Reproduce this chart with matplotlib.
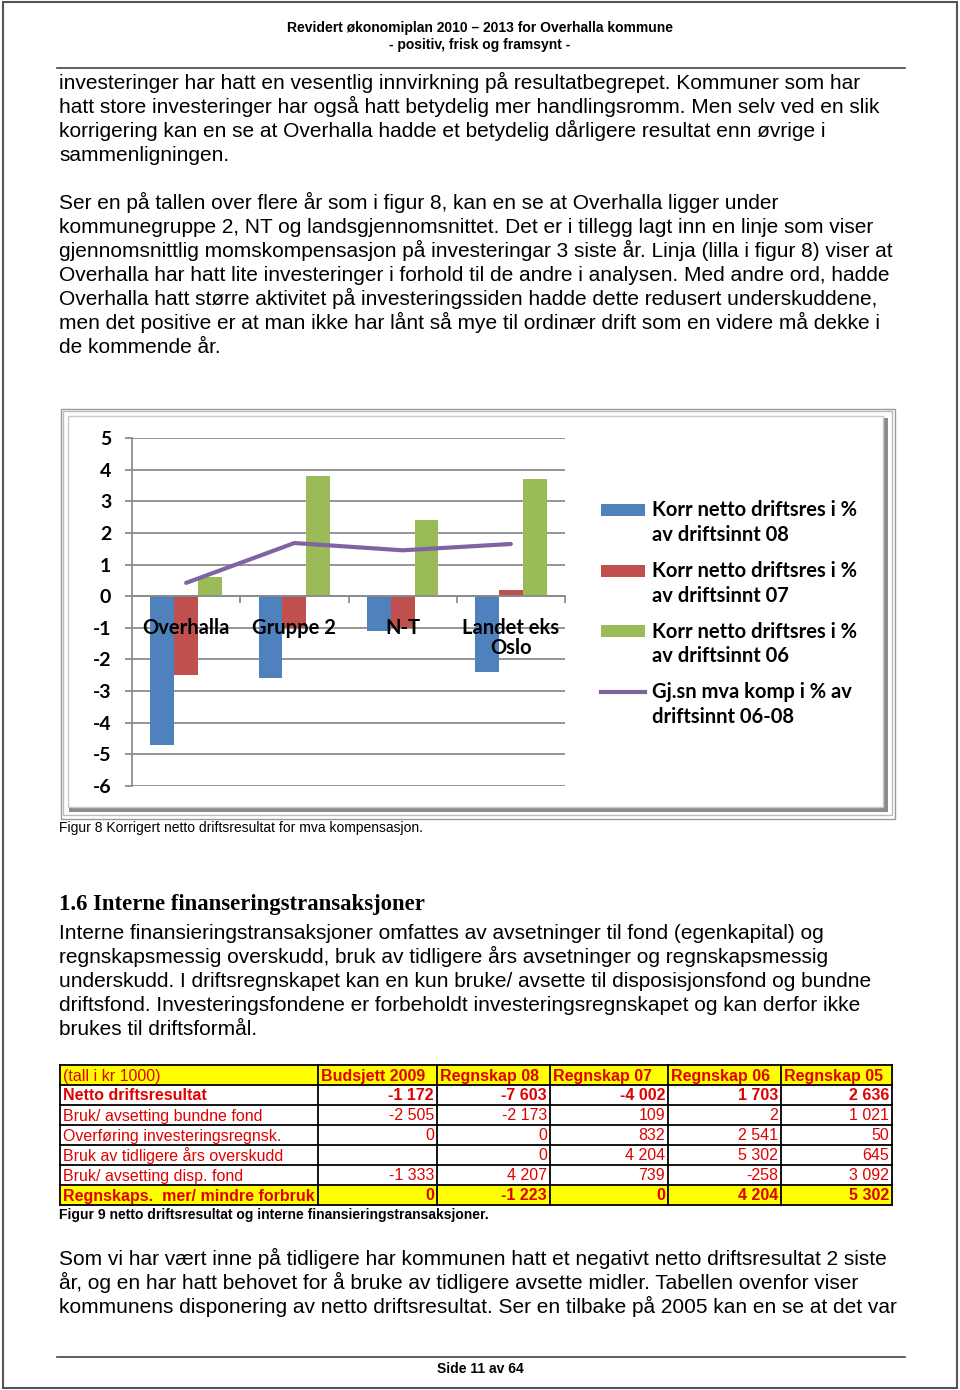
import matplotlib
matplotlib.use('Agg')
import matplotlib.pyplot as plt
from matplotlib.patches import Rectangle
import numpy as np

plt.rcParams['axes.unicode_minus'] = False

# ---- chart data (figur 8) ----
groups = ['Overhalla', 'Gruppe 2', 'N-T', 'Landet eks\nOslo']
res_08 = [-4.7, -2.6, -1.1, -2.4]
res_07 = [-2.5, -1.0, -1.0, 0.2]
res_06 = [0.6, 3.8, 2.4, 3.7]
mva_komp = [0.42, 1.68, 1.45, 1.65]
series_labels = ['Korr netto driftsres i %\nav driftsinnt 08',
                 'Korr netto driftsres i %\nav driftsinnt 07',
                 'Korr netto driftsres i %\nav driftsinnt 06',
                 'Gj.sn mva komp i % av\ndriftsinnt 06-08']
colors = ['#4F81BD', '#C0504D', '#9BBB59', '#8064A2']

# ---- table data (figur 9) ----
col_heads = ['(tall i kr 1000)', 'Budsjett 2009', 'Regnskap 08', 'Regnskap 07',
             'Regnskap 06', 'Regnskap 05']
row_names = ['Netto driftsresultat', 'Bruk/ avsetting bundne fond',
             'Overføring investeringsregnsk.', 'Bruk av tidligere års overskudd',
             'Bruk/ avsetting disp. fond', 'Regnskaps.  mer/ mindre forbruk']
table_vals = [
    [-1172, -7603, -4002, 1703, 2636],
    [-2505, -2173, 109, 2, 1021],
    [0, 0, 832, 2541, 50],
    [None, 0, 4204, 5302, 645],
    [-1333, 4207, 739, -258, 3092],
    [0, -1223, 0, 4204, 5302],
]

# ---- text ----
header = ['Revidert økonomiplan 2010 \u2013 2013 for Overhalla kommune',
          '- positiv, frisk og framsynt -']
para1 = ['investeringer har hatt en vesentlig innvirkning på resultatbegrepet. Kommuner som har',
         'hatt store investeringer har også hatt betydelig mer handlingsromm. Men selv ved en slik',
         'korrigering kan en se at Overhalla hadde et betydelig dårligere resultat enn øvrige i',
         'sammenligningen.']
para2 = ['Ser en på tallen over flere år som i figur 8, kan en se at Overhalla ligger under',
         'kommunegruppe 2, NT og landsgjennomsnittet. Det er i tillegg lagt inn en linje som viser',
         'gjennomsnittlig momskompensasjon på investeringar 3 siste år. Linja (lilla i figur 8) viser at',
         'Overhalla har hatt lite investeringer i forhold til de andre i analysen. Med andre ord, hadde',
         'Overhalla hatt større aktivitet på investeringssiden hadde dette redusert underskuddene,',
         'men det positive er at man ikke har lånt så mye til ordinær drift som en videre må dekke i',
         'de kommende år.']
para3 = ['Interne finansieringstransaksjoner omfattes av avsetninger til fond (egenkapital) og',
         'regnskapsmessig overskudd, bruk av tidligere års avsetninger og regnskapsmessig',
         'underskudd. I driftsregnskapet kan en kun bruke/ avsette til disposisjonsfond og bundne',
         'driftsfond. Investeringsfondene er forbeholdt investeringsregnskapet og kan derfor ikke',
         'brukes til driftsformål.']
para4 = ['Som vi har vært inne på tidligere har kommunen hatt et negativt netto driftsresultat 2 siste',
         'år, og en har hatt behovet for å bruke av tidligere avsette midler. Tabellen ovenfor viser',
         'kommunens disponering av netto driftsresultat. Ser en tilbake på 2005 kan en se at det var']

W, H = 960, 1390
fig = plt.figure(figsize=(W / 100, H / 100), dpi=100)
page = fig.add_axes([0, 0, 1, 1])
page.set_xlim(0, W)
page.set_ylim(H, 0)
page.axis('off')

body = dict(fontsize=15, family='Liberation Sans', color='black', va='baseline')
sans = 'Liberation Sans'

# page border + header
page.add_patch(Rectangle((2.5, 2), 954.5, 1386, fill=False, ec='#555555', lw=1.5))
page.text(480, 32, header[0], ha='center', va='baseline', fontsize=10,
          fontweight='bold', family=sans)
page.text(480, 49, header[1], ha='center', va='baseline', fontsize=10,
          fontweight='bold', family=sans)
page.plot([57, 905], [68, 68], color='#444444', lw=1.2)

def paragraph(lines, y0, step=24):
    for i, line in enumerate(lines):
        page.text(59, y0 + i * step, line, **body)

paragraph(para1, 89)
paragraph(para2, 209)

# chart frame
page.add_patch(Rectangle((60.5, 408.5), 834.5, 410, fill=False, ec='#999999', lw=1))
page.add_patch(Rectangle((63, 411), 829, 404, fill=False, ec='#bbbbbb', lw=1))
page.add_patch(Rectangle((883, 418), 5, 394, color='#8c8c8c', lw=0))
page.add_patch(Rectangle((69, 807), 819, 5, color='#8c8c8c', lw=0))
page.add_patch(Rectangle((68, 416), 815, 391, fill=False, ec='#c8c8c8', lw=1))

page.text(59, 832, 'Figur 8 Korrigert netto driftsresultat for mva kompensasjon.',
          fontsize=10, family=sans, va='baseline')

# chart axes
x0, x1, ytop, ybot = 132, 565, 438, 786
ax = fig.add_axes([x0 / W, 1 - ybot / H, (x1 - x0) / W, (ybot - ytop) / H])
x = np.arange(len(groups))
bw = 0.22
for k, vals in enumerate([res_08, res_07, res_06]):
    ax.bar(x + (k - 1) * bw, vals, width=bw, color=colors[k], zorder=2)
ax.plot(x, mva_komp, color=colors[3], lw=3, zorder=3, solid_capstyle='round')
ax.set_xlim(-0.5, len(groups) - 0.5)
ax.set_ylim(-6, 5)
ax.set_yticks(np.arange(-6, 6))
ax.set_axisbelow(True)
ax.grid(axis='y', color='#8c8c8c', lw=1.3)
for s in ['top', 'right']:
    ax.spines[s].set_visible(False)
ax.spines['left'].set_color('#8c8c8c')
ax.spines['left'].set_linewidth(1.3)
ax.spines['bottom'].set_position(('data', 0))
ax.spines['bottom'].set_color('#8c8c8c')
ax.spines['bottom'].set_linewidth(1.3)
ax.set_xticks(x + 0.5)
ax.set_xticklabels([])
ax.tick_params(axis='x', length=5, color='#8c8c8c', width=1.3)
ax.tick_params(axis='y', length=5, color='#8c8c8c', width=1.3, pad=10)
for t in ax.get_yticklabels():
    t.set_fontsize(14)
    t.set_fontweight('bold')
    t.set_family('Lato')
ax.patch.set_alpha(0)
for i, g in enumerate(groups):
    ax.annotate(g, (i, 0), xytext=(0, -16), textcoords='offset points',
                ha='center', va='top', fontsize=14.5, fontweight='bold',
                family='Lato', linespacing=1.0, zorder=5)

# legend
for k, lab in enumerate(series_labels):
    yc = 510 + k * 60.5
    if k < 3:
        page.add_patch(Rectangle((601, yc - 6), 44, 12, color=colors[k], lw=0))
    else:
        page.plot([601, 645], [yc, yc], color=colors[k], lw=3)
    page.text(652, yc - 9.5, lab, fontsize=14.5, fontweight='bold', family='Lato',
              va='top', ha='left', linespacing=1.3)

# heading + paragraph
page.text(59, 910, '1.6 Interne finanseringstransaksjoner', fontsize=16.4,
          fontweight='bold', family='Liberation Serif', va='baseline')
paragraph(para3, 939)

# table
col_edges = [60, 318, 437, 550, 668, 781, 892]
row_top = 1065
rh = 20
red = '#E00000'
nrows = len(row_names) + 1
for r in range(nrows):
    top = row_top + r * rh
    yellow = r == 0 or r == nrows - 1
    if yellow:
        page.add_patch(Rectangle((col_edges[0], top), col_edges[-1] - col_edges[0], rh,
                                 color='#FFFF00', lw=0))
    for c in range(len(col_edges) - 1):
        if r == 0:
            txt = col_heads[c]
            bold = c > 0
            ha = 'left'
        elif c == 0:
            txt = row_names[r - 1]
            bold = r == 1 or r == nrows - 1
            ha = 'left'
        else:
            v = table_vals[r - 1][c - 1]
            txt = '' if v is None else f'{v:,}'.replace(',', ' ')
            bold = r == 1 or r == nrows - 1
            ha = 'right'
        tx = col_edges[c] + 3 if ha == 'left' else col_edges[c + 1] - 3
        page.text(tx, top + rh / 2 + 1, txt, ha=ha, va='center', fontsize=11.5,
                  fontweight='bold' if bold else 'normal', color=red, family=sans)
for r in range(nrows + 1):
    page.plot([col_edges[0], col_edges[-1]], [row_top + r * rh] * 2, color='black', lw=1.3)
for e in col_edges:
    page.plot([e, e], [row_top, row_top + nrows * rh], color='black', lw=1.3)

page.text(59, 1219, 'Figur 9 netto driftsresultat og interne finansieringstransaksjoner.',
          fontsize=10, fontweight='bold', family=sans, va='baseline')
paragraph(para4, 1265)

# footer
page.plot([57, 905], [1357, 1357], color='#444444', lw=1.2)
page.text(480, 1373, 'Side 11 av 64', ha='center', va='baseline', fontsize=10,
          fontweight='bold', family=sans)

fig.savefig('out.png', dpi=100)
